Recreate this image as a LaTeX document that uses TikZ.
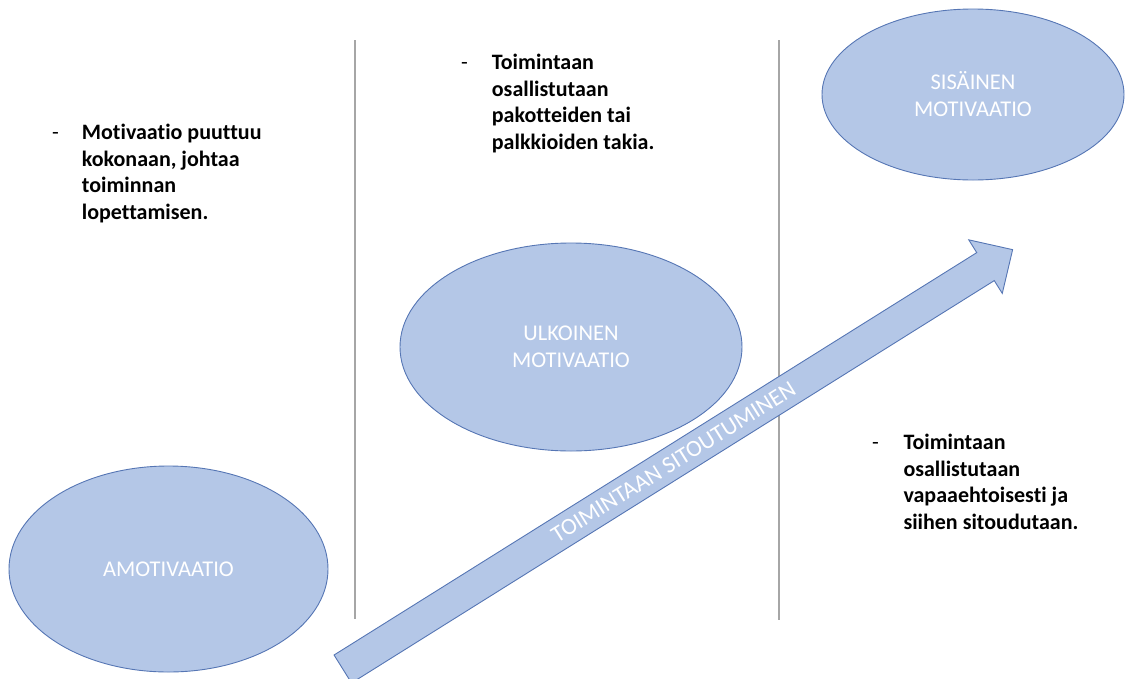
\documentclass[tikz,border=0pt]{standalone}
\usepackage{fontspec}
\setmainfont{Carlito}[Ligatures=NoCommon]
\usetikzlibrary{shapes.geometric}
\definecolor{motfill}{HTML}{B4C7E7}
\definecolor{motline}{HTML}{5676B4}
\definecolor{divline}{HTML}{A6A6A6}

\begin{document}
\begin{tikzpicture}[x=1pt,y=-1pt,
  motblob/.style={ellipse,fill=motfill,draw=motline,line width=0.9pt,inner sep=0pt,
    text=white,align=center,font=\fontsize{22.5}{27}\selectfont},
  bullettxt/.style={anchor=north west,inner sep=0pt,align=left,
    font=\fontsize{22}{26.7}\selectfont\bfseries},
  bulletdash/.style={anchor=base west,inner sep=0pt,font=\fontsize{22}{26.7}\selectfont},
  divider/.style={draw=divline,line width=1.1pt}]
\useasboundingbox (0,0) rectangle (1127,678);

% columns
\coordinate (d1top) at (355,40);
\coordinate (d1bot) at (355,619);
\coordinate (d2top) at (779,40);
\coordinate (d2bot) at (779,620);
\draw[divider] (d1top) -- (d1bot);
\draw[divider] (d2top) -- (d2bot);

% the three stages
\node[motblob,minimum width=319pt,minimum height=206pt] (amot) at (168.5,569) {AMOTIVAATIO};
\node[motblob,minimum width=342pt,minimum height=208pt] (ulk) at (571,347) {ULKOINEN\\MOTIVAATIO};
\node[motblob,minimum width=302pt,minimum height=171pt] (sis) at (973,94.5) {SISÄINEN\\MOTIVAATIO};

% block arrow
\coordinate (tail) at (342.8,669);
\begin{scope}[shift={(tail)},rotate=32.05]
\filldraw[fill=motfill,draw=motline,line width=0.9pt] (0,-16.5) -- (758.3,-16.5) -- (758.3,-31.6)
  -- (790.3,0) -- (758.3,31.6) -- (758.3,16.5) -- (0,16.5) -- cycle;
\node[transform shape,inner sep=0pt,text=white,font=\fontsize{23.5}{24}\selectfont] (flow) at (390,0) {TOIMINTAAN SITOUTUMINEN};
\end{scope}

% descriptions
\node[bulletdash] (dash1) at (52,139.3) {-};
\node[bullettxt] (txt1) at (81.7,120.6) {\strut Motivaatio puuttuu\\kokonaan, johtaa\\toiminnan\\lopettamisen.};
\node[bulletdash] (dash2) at (461,69.3) {-};
\node[bullettxt] (txt2) at (491.7,50.6) {\strut Toimintaan\\osallistutaan\\pakotteiden tai\\palkkioiden takia.};
\node[bulletdash] (dash3) at (872,449.3) {-};
\node[bullettxt] (txt3) at (903.3,430.6) {\strut Toimintaan\\osallistutaan\\vapaaehtoisesti ja\\siihen sitoudutaan.};
\end{tikzpicture}
\end{document}
